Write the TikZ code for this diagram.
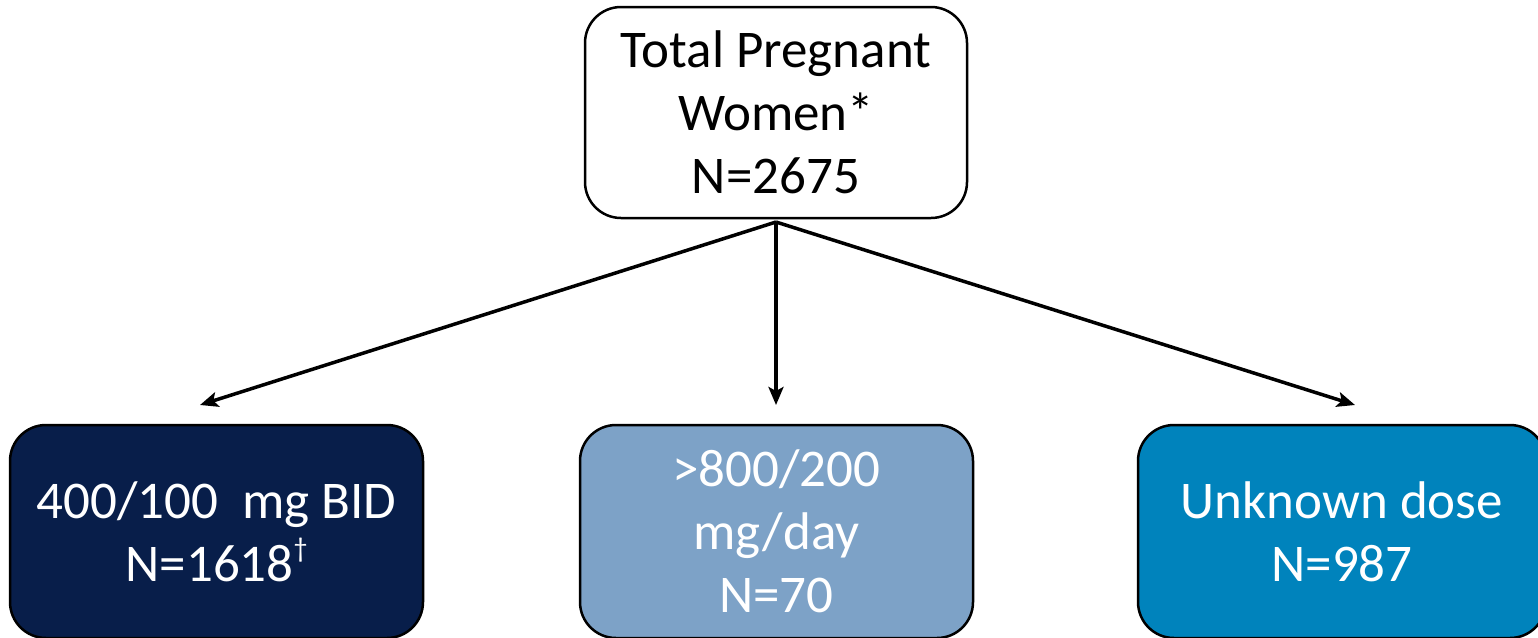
\documentclass[tikz,border=0pt]{standalone}
\usepackage{fontspec}
\setmainfont{Carlito}
\usetikzlibrary{arrows.meta}
\definecolor{navy}{HTML}{081E4A}
\definecolor{steel}{HTML}{7DA2C7}
\definecolor{ocean}{HTML}{0083BC}
\tikzset{
  box/.style={draw=black, line width=2.5pt, rounded corners=36pt, align=center,
    font=\fontsize{53}{63}\selectfont, inner sep=0pt},
  conn/.style={line width=3.5pt, -{Stealth[length=18pt,width=15pt,inset=4pt]}}
}
\begin{document}
\begin{tikzpicture}[x=1pt,y=-1pt]
\useasboundingbox (0,0) rectangle (1538,637);
\node[box, fill=white, minimum width=382pt, minimum height=211pt] (top) at (776,112.5)
  {Total Pregnant\\Women*\\N=2675};
\node[box, fill=navy, text=white, minimum width=413pt, minimum height=213pt] (left) at (216.5,531.5)
  {400/100\ \ mg BID\\N=1618\raisebox{0.45em}{\fontsize{28}{28}\selectfont\textdagger}};
\node[box, fill=steel, text=white, minimum width=393pt, minimum height=213pt] (mid) at (776.5,531.5)
  {>800/200\\mg/day\\N=70};
\node[box, fill=ocean, text=white, minimum width=408pt, minimum height=213pt] (right) at (1342,531.5)
  {Unknown dose\\N=987};
\coordinate (s) at (776,222);
\coordinate (t1) at (200,405);
\coordinate (t2) at (776,405);
\coordinate (t3) at (1355,405);
\draw[conn] (s) -- (t1);
\draw[conn] (s) -- (t2);
\draw[conn] (s) -- (t3);
\end{tikzpicture}
\end{document}
